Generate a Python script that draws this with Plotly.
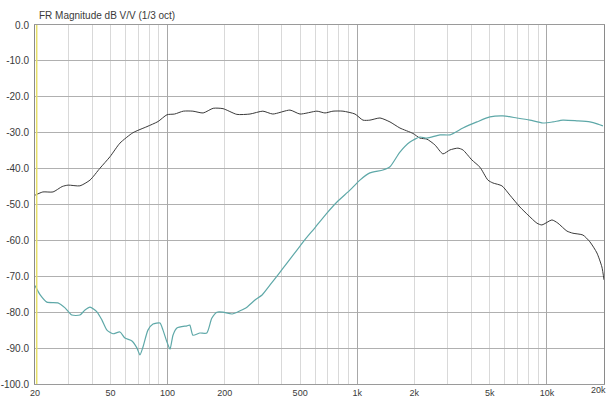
import plotly.graph_objects as go

# Frequency response, 1/3 octave smoothed
woofer_freq = [20, 20.2, 22.0, 24.9, 27.8, 29.9, 34.5, 39, 44, 49.7, 56.1, 65.7, 77.9, 89,
               99.3, 109, 121, 136, 154, 174, 196, 232, 272, 318, 359, 442, 499, 613, 676,
               745, 841, 973, 1072, 1166, 1318, 1488, 1679, 1966, 2140, 2330, 2568, 2830,
               3082, 3396, 3608, 4024, 4434, 4887, 5192, 5792, 6382, 7206, 7942, 8860, 9412,
               10626, 11430, 12750, 13710, 15484, 16856, 18354, 19496, 20000]
woofer_db = [-47.4, -47.3, -46.5, -46.5, -45.0, -44.6, -44.8, -43.2, -39.9, -36.7, -32.9, -30.0,
             -28.3, -26.9, -25.0, -24.8, -24.0, -24.0, -24.5, -23.2, -23.3, -24.9, -24.8, -24.0,
             -24.8, -23.7, -24.8, -24.0, -24.5, -24.0, -24.0, -24.8, -26.5, -26.5, -25.9, -27.0,
             -28.7, -30.2, -31.5, -31.8, -33.4, -35.9, -34.8, -34.3, -34.8, -37.6, -39.6, -43.2,
             -44.0, -44.8, -47.4, -50.7, -52.9, -55.2, -55.7, -54.3, -55.2, -57.4, -58.0, -58.5,
             -60.4, -63.5, -67.4, -71.0]

tweeter_freq = [20, 21.3, 23.1, 26.4, 28.8, 31.3, 34.5, 36.7, 39, 42.4, 45.1, 47.9, 51.5, 56.1,
                59.6, 64.9, 69, 71.5, 74.2, 78.8, 83.8, 91.2, 94.6, 99.3, 103, 106.8, 112,
                126.6, 131, 136, 148, 161, 171, 182, 196, 219, 241, 262, 289, 315, 347, 382,
                426, 481, 530, 598, 692, 782, 915, 1033, 1166, 1366, 1488, 1679, 1897, 2140,
                2330, 2729, 3082, 3608, 4276, 5006, 5862, 6946, 8136, 9528, 10756, 12144,
                14392, 16856, 18574, 19734]
tweeter_db = [-72.6, -75.2, -77.2, -77.4, -78.8, -80.8, -80.8, -79.4, -78.6, -79.9, -82.2, -85.0,
              -86.0, -85.5, -87.2, -88.0, -90.0, -91.9, -89.7, -85.0, -83.3, -83.0, -85.0, -88.3,
              -90.3, -86.4, -84.4, -83.8, -83.6, -86.4, -85.8, -85.8, -81.7, -80.0, -80.0, -80.5,
              -79.6, -78.6, -76.6, -75.2, -72.4, -69.6, -66.3, -62.7, -59.8, -56.5, -52.4, -49.3,
              -46.0, -43.2, -41.2, -40.4, -39.5, -35.4, -32.6, -31.2, -31.5, -30.6, -30.6, -28.7,
              -27.0, -25.6, -25.3, -25.9, -26.5, -27.3, -27.0, -26.5, -26.7, -27.0, -27.6, -28.1]

# Axis ticks
grid_freqs = [m * d for d in (10, 100, 1000, 10000) for m in range(1, 10)
              if 20 <= m * d <= 20000]
label_freqs = {20: "20", 50: "50", 100: "100", 200: "200", 500: "500", 1000: "1k",
               2000: "2k", 5000: "5k", 10000: "10k"}
end_label = "20k"
decade_freqs = [100, 1000, 10000]
db_ticks = list(range(0, -101, -10))
db_labels = [f"{v:.1f}" for v in db_ticks]

fig = go.Figure()

fig.add_trace(go.Scatter(x=woofer_freq, y=woofer_db, mode="lines",
                         line=dict(color="#3a3a3a", width=1, shape="spline", smoothing=0.6),
                         showlegend=False))
fig.add_trace(go.Scatter(x=tweeter_freq, y=tweeter_db, mode="lines",
                         line=dict(color="#5ea8a8", width=1.2, shape="spline", smoothing=0.6),
                         showlegend=False))

xrange = [1.30103, 4.30103]
fig.update_layout(
    width=608, height=398,
    margin=dict(l=35, r=4, t=25, b=14),
    paper_bgcolor="white", plot_bgcolor="white",
    font=dict(family="Liberation Sans, Arial, sans-serif", size=10, color="#3a3a3a"),
    xaxis=dict(type="log", range=xrange, tickmode="array",
               tickvals=grid_freqs,
               ticktext=[label_freqs.get(f, "") for f in grid_freqs],
               showgrid=True, gridcolor="#d9d9d9", gridwidth=1,
               showline=True, linecolor="#9a9a9a", linewidth=1, mirror=True,
               ticks="", ticklabelstandoff=0, zeroline=False, automargin=False,
               ticklabeloverflow="allow",
               tickfont=dict(size=9, color="#3a3a3a")),
    xaxis2=dict(type="log", range=xrange, overlaying="x", tickmode="array",
                tickvals=decade_freqs, showticklabels=False, ticks="",
                showgrid=True, gridcolor="#a8a8a8", gridwidth=1, zeroline=False,
                automargin=False),
    yaxis=dict(range=[-100, 0], tickmode="array", tickvals=db_ticks, ticktext=db_labels,
               showgrid=True, gridcolor="#b0b0b0", gridwidth=1, zeroline=False,
               showline=True, linecolor="#8a8a8a", linewidth=1, mirror=True,
               ticks="", ticklabelstandoff=3, automargin=False,
               ticklabeloverflow="allow",
               tickfont=dict(size=10, color="#3a3a3a")),
    shapes=[dict(type="line", xref="paper", yref="paper", x0=0.003, x1=0.003, y0=0, y1=1,
                 line=dict(color="#e6df6a", width=1.5))],
    annotations=[
        dict(text="FR Magnitude dB V/V (1/3 oct)", xref="paper", yref="paper",
             x=0.003, y=1, xanchor="left", yanchor="bottom", yshift=2,
             showarrow=False, font=dict(size=10, color="#3a3a3a")),
        # right-end frequency label kept inside the page
        dict(text=end_label, xref="paper", yref="paper", x=1, y=0,
             xanchor="right", yanchor="top", xshift=4, yshift=1,
             showarrow=False, font=dict(size=9, color="#3a3a3a")),
    ],
)

# empty trace to activate the overlaid decade grid axis
fig.add_trace(go.Scatter(x=[20, 20000], y=[None, None], xaxis="x2", showlegend=False,
                         hoverinfo="skip"))

fig.write_html("out.html")
